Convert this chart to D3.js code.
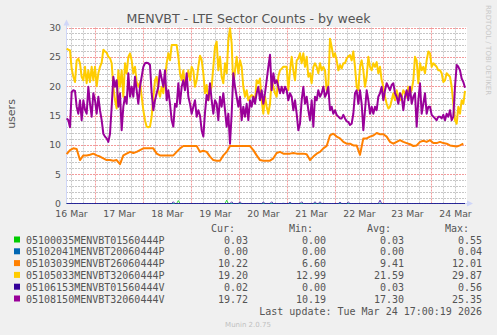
<!DOCTYPE html>
<html><head><meta charset="utf-8">
<script src="https://cdn.jsdelivr.net/npm/d3@7/dist/d3.min.js"></script>
<style>
body{margin:0;background:#F0F0F0}
svg{display:block}
</style>
</head><body>
<svg id="c" width="497" height="335"></svg>
<script>
// ---------- data ----------
const chartTitle = "MENVBT - LTE Sector Counts - by week";
const yLabel = "users";
const seriesNames = ["05100035MENVBT01560444P","05102041MENVBT20060444P","05103039MENVBT26060444P","05105033MENVBT32060444P","05106153MENVBT01560444V","05108150MENVBT32060444V"];
const seriesColors = ["#00CC00","#0066B3","#FF8000","#FFCC00","#330099","#990099"];
const curValues = ["0.03","0.00","10.22","19.20","0.02","19.72"];
const minValues = ["0.00","0.00","6.60","12.99","0.00","10.19"];
const avgValues = ["0.03","0.00","9.41","21.59","0.03","17.30"];
const maxValues = ["0.55","0.04","12.01","29.87","0.56","25.35"];
const lastUpdate = "Last update: Tue Mar 24 17:00:19 2026";
const footer = "Munin 2.0.75";
const sideText = "RRDTOOL / TOBI OETIKER";
const yTicks = [0,5,10,15,20,25,30];
const xLabelDays = ["2026-03-16","2026-03-17","2026-03-18","2026-03-19","2026-03-20","2026-03-21","2026-03-22","2026-03-23","2026-03-24"];
const viewStart = new Date(2026,2,16,9,30);
const viewEnd = new Date(2026,2,24,17,30);
const sampleStart = new Date(2026,2,16,9,50);
const sampleMinutes = 50;        // yellow, purple, near-zero series
const orangeSampleMinutes = 100; // orange

const yellowValues = [
26.4,26.2,26.1,23.0,21.6,20.7,24.4,24.7,23.9,21.6,
21.0,23.3,20.5,22.7,20.7,23.3,21.0,23.3,20.0,22.2,
23.3,24.0,26.2,25.9,25.7,25.0,24.8,23.9,19.9,17.6,
16.2,22.7,19.9,22.7,18.2,23.9,22.2,25.0,25.6,24.4,
22.2,23.3,20.7,19.9,20.7,18.2,15.9,14.2,13.1,12.99,
13.1,14.8,18.2,21.0,21.6,19.3,18.2,19.9,18.8,21.6,
23.9,25.6,24.4,27.0,27.0,27.0,27.0,25.0,22.2,21.0,
22.7,19.9,21.0,22.7,21.0,23.3,22.7,19.9,21.0,23.3,
25.2,24.5,22.2,18.8,20.2,17.6,19.0,19.9,23.3,26.7,
27.6,22.7,25.0,21.6,20.5,23.9,22.2,27.8,29.87,27.3,
19.9,22.7,25.0,22.2,24.4,23.3,19.9,18.2,19.3,17.6,
18.2,18.5,18.2,17.6,21.0,20.5,21.3,17.6,15.3,18.2,
16.5,15.3,17.0,21.0,19.9,18.8,18.2,21.6,22.7,23.0,
23.3,23.3,23.3,19.3,22.7,25.0,22.7,21.0,24.4,24.7,
25.6,23.9,25.6,23.3,25.0,21.6,22.2,20.5,23.3,23.9,
23.3,22.2,23.9,22.7,23.3,22.7,19.3,20.2,28.1,26.7,
25.0,25.6,24.4,22.7,23.6,23.0,23.9,23.9,24.7,25.1,
25.3,24.4,25.9,23.3,19.9,19.3,23.3,24.4,22.7,19.9,
21.6,25.0,23.3,22.7,23.9,23.3,24.1,22.2,23.3,21.0,
19.9,18.2,17.0,16.2,16.5,17.6,18.8,17.6,19.3,18.2,
17.6,18.2,19.3,18.8,18.2,19.9,18.8,19.3,21.0,25.0,
24.4,20.5,23.9,22.7,23.3,22.2,24.4,25.9,25.6,23.3,
23.9,23.6,23.3,22.7,22.7,22.2,20.7,21.0,22.2,21.9,
21.6,19.9,17.0,14.2,13.6,16.5,15.3,17.6,17.0,19.20];

const purpleValues = [
14.5,14.2,13.0,19.0,19.3,19.2,16.5,15.3,17.6,14.2,
17.6,16.0,15.3,19.9,17.0,14.8,18.8,17.6,15.3,18.2,
15.9,14.2,11.9,11.4,11.1,10.5,11.9,16.5,21.6,19.9,
21.0,16.5,18.8,12.5,16.5,18.2,17.0,22.2,18.2,19.9,
18.2,21.6,19.3,17.0,19.9,21.6,23.3,23.9,24.0,23.9,
23.6,18.8,15.9,17.6,18.8,19.9,22.7,21.3,19.9,22.7,
17.6,19.3,17.0,14.2,13.1,17.0,16.5,20.5,17.0,19.9,
21.0,19.3,22.2,18.2,17.0,15.3,16.5,17.6,14.8,15.9,
15.0,12.5,11.4,15.5,18.5,17.6,20.5,17.6,15.3,17.6,
17.0,14.2,18.2,16.5,18.8,15.9,13.1,15.3,10.19,15.3,
22.2,19.9,18.2,16.5,18.2,14.2,16.5,14.8,17.0,14.2,
17.6,16.5,18.2,17.0,18.8,19.9,17.6,19.3,17.0,18.8,
21.0,23.3,25.35,19.3,22.2,20.5,21.0,19.9,18.8,19.9,
18.8,19.9,19.3,17.6,18.8,18.2,15.9,17.6,15.3,12.5,
13.6,17.6,19.9,17.0,18.2,15.9,14.2,17.6,13.1,18.2,
17.6,19.3,18.2,18.8,19.9,18.2,18.8,19.9,15.9,16.5,
15.3,15.9,15.1,14.8,14.5,14.5,15.1,14.5,14.0,13.9,
13.4,13.6,15.3,18.8,19.3,17.0,19.3,17.0,12.5,15.9,
19.3,17.6,15.3,16.5,15.3,16.5,15.9,18.2,18.8,19.9,
17.6,19.3,20.5,19.9,19.3,20.2,20.5,18.8,18.2,17.0,
18.8,18.2,15.9,18.2,19.3,17.6,19.9,17.0,18.2,18.8,
13.1,17.6,20.5,15.3,17.0,18.8,15.3,16.5,16.5,15.1,
14.8,14.5,14.2,14.8,14.8,14.5,15.1,14.2,15.3,14.8,
15.9,14.2,14.8,19.9,23.6,23.3,22.7,21.3,20.7,19.72];

const orangeValues = [
8.4,9.1,9.4,9.3,7.4,8.2,8.2,8.3,8.5,8.2,
8.0,7.7,7.4,7.4,7.3,7.4,6.7,8.2,8.5,8.8,
8.6,8.8,9.1,9.4,9.4,9.4,9.4,8.5,8.2,8.2,
8.2,8.2,8.2,8.8,9.4,9.8,9.8,9.8,9.8,9.8,
8.8,9.0,8.8,8.0,7.4,7.3,7.3,8.2,8.8,9.8,
9.8,9.8,9.8,9.8,9.8,9.8,9.1,8.2,7.4,7.3,
7.3,7.3,7.7,8.6,8.8,8.5,8.5,8.5,8.6,8.5,
8.5,8.5,8.4,7.4,8.0,8.5,8.8,9.4,9.8,11.6,
11.9,11.4,11.1,10.5,10.2,10.2,9.9,9.9,8.3,11.1,
11.1,11.4,11.6,12.01,11.8,11.8,11.4,10.5,10.2,10.5,
10.8,10.5,10.3,10.1,9.8,9.9,10.5,10.7,10.5,10.8,
10.3,10.3,10.5,10.3,10.2,9.9,9.8,9.7,9.9,10.22];

// near-zero series: [sample index, value]; every other sample is 0
const greenSpikes = [[67,0.5],[96,0.55]];
const blueSpikes = [[130,0.04]];
const darkBlueSpikes = [[64,0.3],[99,0.3],[104,0.3],[118,0.25],[123,0.3],[134,0.25],[141,0.3],[149,0.3],[152,0.3],[164,0.25],[169,0.25],[188,0.56]];
const nSamples = 240;

// ---------- build ----------
const tAt = (i, step) => new Date(sampleStart.getTime() + i*step*60000);
const dense = (vals, step) => vals.map((v,i)=>({t:tAt(i,step), v}));
const sparse = (spikes) => {
  const m = new Map(spikes);
  return d3.range(nSamples).map(i=>({t:tAt(i,sampleMinutes), v: m.has(i)?m.get(i):0}));
};
const seriesData = [
  sparse(greenSpikes),
  sparse(blueSpikes),
  dense(orangeValues, orangeSampleMinutes),
  dense(yellowValues, sampleMinutes),
  sparse(darkBlueSpikes),
  dense(purpleValues, sampleMinutes)
];

const svg = d3.select("#c");
const L=66, R=466, T=27.5, B=203.5;
const x = d3.scaleTime().domain([viewStart, viewEnd]).range([L,R]);
const y = d3.scaleLinear().domain([0,30]).range([B,T]);

svg.append("rect").attr("width",497).attr("height",335).attr("fill","#F0F0F0");
svg.append("rect").attr("x",L).attr("y",T-0.5).attr("width",R-L+1).attr("height",B-T+1).attr("fill","#FFFFFF");

const grid = svg.append("g");
const minorColor = "#c6c6c6", majorColor = "#f29a9a";
// minor horizontal
d3.range(0,31).filter(v=>v%5!==0).forEach(v=>{
  grid.append("line").attr("x1",L).attr("x2",R).attr("y1",Math.round(y(v))+0.5).attr("y2",Math.round(y(v))+0.5)
    .attr("stroke",minorColor).attr("stroke-width",1).attr("stroke-dasharray","2,1");
});
// minor vertical (6h)
d3.timeHour.every(6).range(viewStart, viewEnd).filter(d=>d.getHours()!==0).forEach(d=>{
  const xx=Math.round(x(d))+0.5;
  grid.append("line").attr("x1",xx).attr("x2",xx).attr("y1",T).attr("y2",B)
    .attr("stroke",minorColor).attr("stroke-width",1).attr("stroke-dasharray","2,1");
});
// major horizontal
yTicks.filter(v=>v>0).forEach(v=>{
  grid.append("line").attr("x1",L).attr("x2",R).attr("y1",Math.round(y(v))+0.5).attr("y2",Math.round(y(v))+0.5)
    .attr("stroke",majorColor).attr("stroke-width",1).attr("stroke-dasharray","2,1");
});
// major vertical (midnight)
d3.timeDay.range(viewStart, viewEnd).forEach(d=>{
  const xx=Math.round(x(d))+0.5;
  grid.append("line").attr("x1",xx).attr("x2",xx).attr("y1",T).attr("y2",B)
    .attr("stroke",majorColor).attr("stroke-width",1).attr("stroke-dasharray","2,1");
});

// axes lines + arrows
svg.append("line").attr("x1",L+0.5).attr("x2",L+0.5).attr("y1",B).attr("y2",T-5).attr("stroke","#CFD6F8");
svg.append("path").attr("d",`M${L-2.5},${T-2} L${L+3.5},${T-2} L${L+0.5},${T-8} Z`).attr("fill","#CFD6F8");
svg.append("line").attr("x1",L).attr("x2",R+2).attr("y1",B).attr("y2",B).attr("stroke","#CFD6F8");
svg.append("path").attr("d",`M${R+1},${B-3} L${R+1},${B+3} L${R+7},${B} Z`).attr("fill","#CFD6F8");

// series lines
const line = d3.line().x(d=>x(d.t)).y(d=>y(d.v));
seriesData.forEach((data,k)=>{
  const main = (k===2||k===3||k===5);
  svg.append("path").datum(data).attr("d",line).attr("fill","none")
    .attr("stroke",seriesColors[k]).attr("stroke-width",main?2:1)
    .attr("stroke-opacity",main?1:0.75)
    .attr("stroke-linejoin","round");
});

// tick labels via d3 axes
const fontTick = "'DejaVu Sans', sans-serif";
const ya = svg.append("g").attr("transform",`translate(${L},0)`)
  .call(d3.axisLeft(y).tickValues(yTicks).tickSize(0).tickPadding(5));
ya.select(".domain").remove();
ya.selectAll("text").attr("fill","#555").style("font-family",fontTick).style("font-size","9.3px");

const noonDays = xLabelDays.map(s=>{const p=s.split("-"); return new Date(+p[0],+p[1]-1,+p[2],12,0);});
const xa = svg.append("g").attr("transform",`translate(0,${B})`)
  .call(d3.axisBottom(x).tickValues(noonDays).tickFormat(d3.timeFormat("%d %b")).tickSize(0).tickPadding(6.4));
xa.select(".domain").remove();
xa.selectAll("text").attr("fill","#555").style("font-family",fontTick).style("font-size","9.3px");

// title, y label, side text
svg.append("text").attr("x",248.5).attr("y",22.5).attr("text-anchor","middle")
  .attr("fill","#555").style("font-family",fontTick).style("font-size","12.6px").text(chartTitle);
svg.append("text").attr("transform","translate(15,114) rotate(-90)").attr("text-anchor","middle")
  .attr("fill","#555").style("font-family",fontTick).style("font-size","11px").text(yLabel);
svg.append("text").attr("transform","translate(486,5) rotate(90)").attr("text-anchor","start")
  .attr("fill","#c8c8c8").style("font-family",fontTick).style("font-size","7px").text(sideText);

// legend
const mono = "'DejaVu Sans Mono', monospace";
const leg = svg.append("g").style("font-family",mono).style("font-size","10px").attr("fill","#555");
const colRight = [248,326,404,482];
const headers = ["Cur:","Min:","Avg:","Max:"];
headers.forEach((h,c)=>leg.append("text").attr("x",colRight[c]-13).attr("y",231.5).attr("text-anchor","end").text(h));
const rowY = d3.range(6).map(r=>243.5+r*11.8);
seriesNames.forEach((n,r)=>{
  leg.append("rect").attr("x",14).attr("y",rowY[r]-7).attr("width",6).attr("height",6).attr("fill",seriesColors[r]);
  leg.append("text").attr("x",26).attr("y",rowY[r]).text(n);
  [curValues,minValues,avgValues,maxValues].forEach((arr,c)=>{
    leg.append("text").attr("x",colRight[c]).attr("y",rowY[r]).attr("text-anchor","end").text(arr[r]);
  });
});
leg.append("text").attr("x",482).attr("y",315).attr("text-anchor","end").text(lastUpdate);
svg.append("text").attr("x",248).attr("y",326.5).attr("text-anchor","middle")
  .attr("fill","#c0c0c0").style("font-family",fontTick).style("font-size","7px").text(footer);
</script>
</body></html>
